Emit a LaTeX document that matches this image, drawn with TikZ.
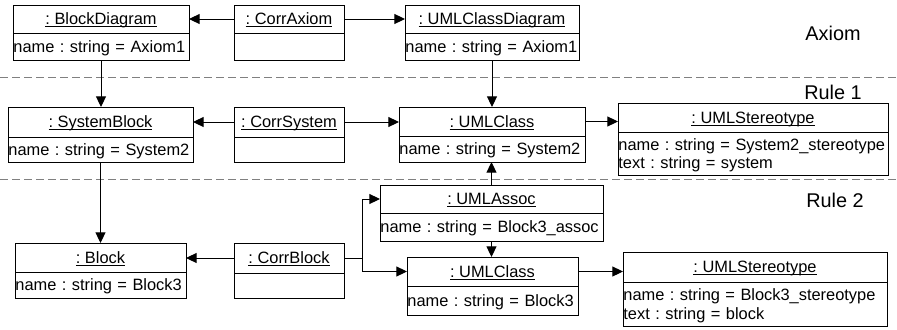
\documentclass[tikz,border=0pt]{standalone}
\usepackage{fontspec}
\setmainfont{Liberation Sans}
\usetikzlibrary{arrows.meta}

% body text of the object boxes
\newcommand{\objfont}{\fontsize{12.3pt}{13.9pt}\selectfont\frenchspacing}
% underlined object title (underline just below the baseline)
\newcommand{\objtitle}[1]{\setbox0=\hbox{#1}\rlap{\rule[-1.7pt]{\wd0}{0.7pt}}\box0}

% object box: [slot options] name, left x, top y, width, title height, slot height, title, attributes
\newcommand{\umlobj}[9][]{%
  \pgfmathsetlengthmacro{\objw}{#5*0.75pt}%
  \pgfmathsetlengthmacro{\objtw}{#5*0.75pt-0.6pt}%
  \pgfmathsetlengthmacro{\objhh}{#6*0.75pt}%
  \pgfmathsetlengthmacro{\objah}{#7*0.75pt}%
  \node[objhead, minimum width=\objw, minimum height=\objhh] (#2) at (#3,#4) {\objtitle{#8}};
  \node[objattr, minimum width=\objw, text width=\objtw, minimum height=\objah, #1] (#2-a) at (#2.south west) {#9};
}

\tikzset{
  objhead/.style={draw, line width=0.75pt, fill=white, anchor=north west,
    inner sep=0pt, outer sep=0pt, font=\objfont, text height=8.85pt, text depth=0pt, align=center},
  objattr/.style={draw, line width=0.75pt, fill=white, anchor=north west,
    inner xsep=0.3pt, inner ysep=0pt, outer sep=0pt, font=\objfont,
    text height=8.85pt, text depth=0pt, align=left},
  twolines/.style={text depth=13.9pt},
  arr/.style={line width=0.75pt, -{Triangle[length=8pt,width=7.5pt]}},
  sep/.style={gray, line width=0.75pt, dash pattern=on 6pt off 3pt},
  lbl/.style={font=\fontsize{14.9pt}{17pt}\selectfont, anchor=base, inner sep=0pt}
}

\begin{document}
\begin{tikzpicture}[x=0.75pt, y=-0.75pt]
\useasboundingbox (0,0) rectangle (897,329);

% section separators
\draw[sep] (0,77) -- (897,77);
\draw[sep] (0,179.5) -- (897,179.5);

% section labels
\node[lbl] (laxiom) at (833,40) {Axiom};
\node[lbl] (lrule1) at (833,99) {Rule 1};
\node[lbl] (lrule2) at (835,207) {Rule 2};

% axiom
\umlobj{bd}{13}{5}{176}{28}{27}{: BlockDiagram}{name : string = Axiom1}
\umlobj{ca}{234}{5}{110}{28}{27}{: CorrAxiom}{}
\umlobj{ucd}{405}{5}{174}{28}{27}{: UMLClassDiagram}{name : string = Axiom1}

% rule 1
\umlobj{sb}{8}{107}{185}{30}{25}{: SystemBlock}{name : string = System2}
\umlobj{cs}{234}{107}{110}{30}{25}{: CorrSystem}{}
\umlobj{uc}{399}{107}{186}{29}{26}{: UMLClass}{name : string = System2}
\umlobj[twolines]{us}{618}{103}{270}{29}{43}{: UMLStereotype}{name : string = System2\_stereotype\\text : string = system}

% rule 2
\umlobj{ua}{380}{185}{223}{28}{28}{: UMLAssoc}{name : string = Block3\_assoc}
\umlobj{bl}{15}{243}{171}{29}{26}{: Block}{name : string = Block3}
\umlobj{cb}{234}{243}{110}{30}{25}{: CorrBlock}{}
\umlobj{uc2}{407}{257}{171}{29}{29}{: UMLClass}{name : string = Block3}
\umlobj[twolines]{us2}{623}{252}{264}{30}{44}{: UMLStereotype}{name : string = Block3\_stereotype\\text : string = block}

% links
\draw[arr] (ca.west) -- (bd.east);
\draw[arr] (ca.east) -- (ucd.west);
\draw[arr] (bd-a.south) -- (bd-a.south |- sb.north);
\draw[arr] (ucd-a.south) -- (ucd-a.south |- uc.north);
\draw[arr] (cs.west) -- (cs.west -| sb.east);
\draw[arr] (cs.east) -- (cs.east -| uc.west);
\draw[arr] (uc.east) -- (uc.east -| us.west);
\draw[arr] (ua.north) -- (ua.north |- uc-a.south);
\draw[arr] (ua-a.south) -- (ua-a.south |- uc2.north);
\draw[arr] (sb-a.south) -- (sb-a.south |- bl.north);
\draw[arr] (cb.west) -- (cb.west -| bl.east);
\coordinate (fork) at (362,258);
\draw[arr] (cb.east) -- (cb.east -| fork) |- (ua.west);
\draw[arr] (cb.east -| fork) |- (uc2.west);
\draw[arr] (uc2.east) -- (uc2.east -| us2.west);
\end{tikzpicture}
\end{document}
